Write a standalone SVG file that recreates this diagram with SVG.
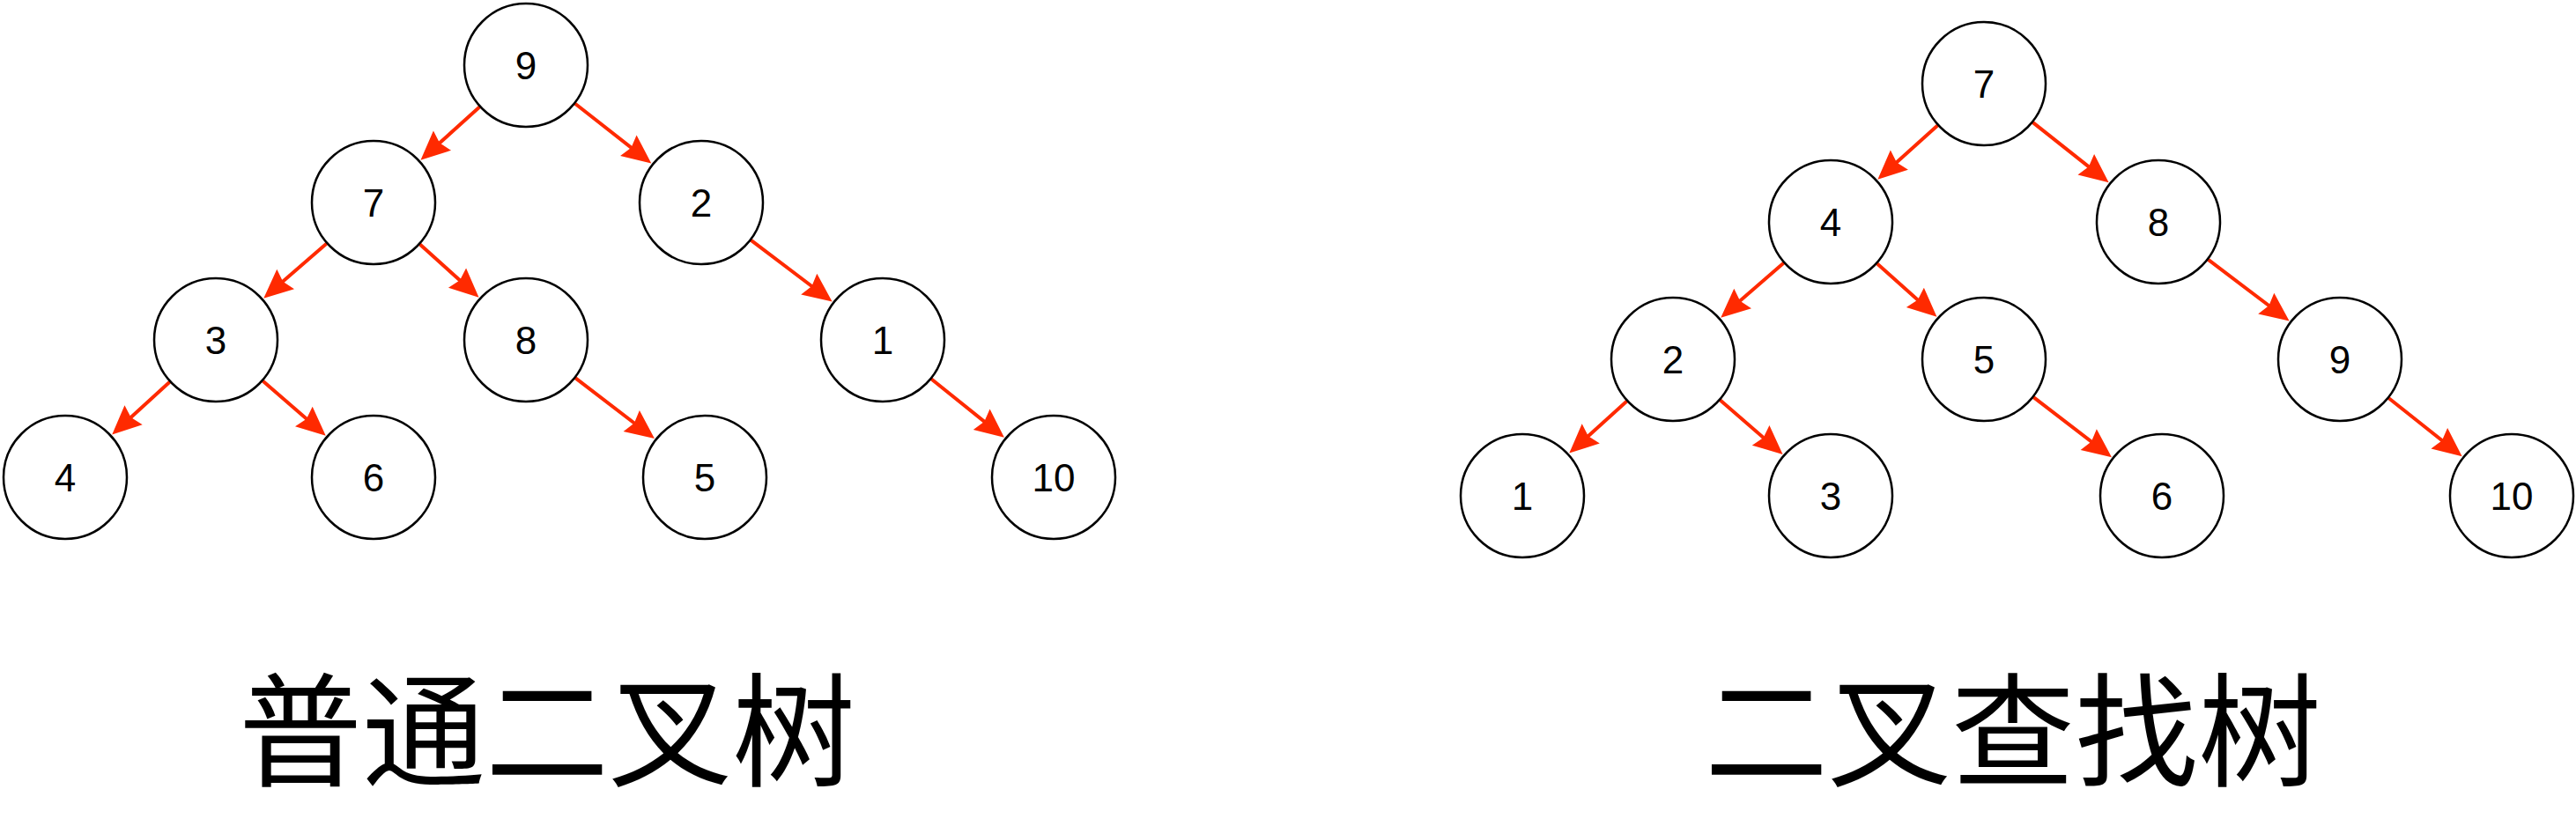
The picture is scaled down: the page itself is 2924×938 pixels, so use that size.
<svg xmlns="http://www.w3.org/2000/svg" width="2924" height="938" viewBox="0 0 2924 938">
<style>
.node circle{fill:#fff;stroke:#000;stroke-width:2.5}
.node text{font-family:"Liberation Sans",Arial,Helvetica,sans-serif;font-size:44px;text-anchor:middle;fill:#000}
.edge{stroke:#FF2A00;stroke-width:4;fill:none;stroke-linecap:round;marker-end:url(#arr)}
.title{font-family:"Noto Sans CJK SC","Noto Sans CJK JP",sans-serif;font-size:140px;text-anchor:middle;fill:#000}
</style>
<defs>
<marker id="arr" markerUnits="userSpaceOnUse" viewBox="-24 -16 35 32" markerWidth="35" markerHeight="32" refX="0" refY="0" orient="auto">
<path d="M10,0 L-23,-15 L-19,0 L-23,15 Z" fill="#FF2A00"/>
</marker>
</defs>
<rect width="2924" height="938" fill="#fff"/>
<g id="connectors">
<line class="edge" x1="544.3" y1="121.5" x2="484.9" y2="175.1"/>
<line class="edge" x1="652.9" y1="117.8" x2="731.4" y2="179.4"/>
<line class="edge" x1="370.5" y1="276.7" x2="306.8" y2="332.1"/>
<line class="edge" x1="476.7" y1="277.5" x2="536.1" y2="331.1"/>
<line class="edge" x1="852.6" y1="272.9" x2="936.6" y2="336.5"/>
<line class="edge" x1="192.6" y1="433.8" x2="134.6" y2="486.8"/>
<line class="edge" x1="298.5" y1="432.7" x2="362.2" y2="488.1"/>
<line class="edge" x1="653.3" y1="429.3" x2="735.0" y2="492.0"/>
<line class="edge" x1="1057.3" y1="430.5" x2="1132.1" y2="490.6"/>
<line class="edge" x1="2199.3" y1="142.6" x2="2138.8" y2="197.1"/>
<line class="edge" x1="2307.6" y1="139.1" x2="2385.8" y2="201.1"/>
<line class="edge" x1="2024.5" y1="298.7" x2="1960.8" y2="354.1"/>
<line class="edge" x1="2130.9" y1="299.4" x2="2191.0" y2="353.2"/>
<line class="edge" x1="2506.6" y1="294.9" x2="2590.6" y2="358.5"/>
<line class="edge" x1="1846.4" y1="455.7" x2="1788.7" y2="507.9"/>
<line class="edge" x1="1952.7" y1="454.5" x2="2016.0" y2="509.4"/>
<line class="edge" x1="2308.3" y1="451.2" x2="2389.0" y2="513.1"/>
<line class="edge" x1="2711.6" y1="452.2" x2="2786.8" y2="512.0"/>
</g>
<g id="L9" class="node"><circle cx="597" cy="74" r="70"/><text x="597" y="90">9</text></g>
<g id="L7" class="node"><circle cx="424" cy="230" r="70"/><text x="424" y="246">7</text></g>
<g id="L2" class="node"><circle cx="796" cy="230" r="70"/><text x="796" y="246">2</text></g>
<g id="L3" class="node"><circle cx="245" cy="386" r="70"/><text x="245" y="402">3</text></g>
<g id="L8" class="node"><circle cx="597" cy="386" r="70"/><text x="597" y="402">8</text></g>
<g id="L1" class="node"><circle cx="1002" cy="386" r="70"/><text x="1002" y="402">1</text></g>
<g id="L4" class="node"><circle cx="74" cy="542" r="70"/><text x="74" y="558">4</text></g>
<g id="L6" class="node"><circle cx="424" cy="542" r="70"/><text x="424" y="558">6</text></g>
<g id="L5" class="node"><circle cx="800" cy="542" r="70"/><text x="800" y="558">5</text></g>
<g id="L10" class="node"><circle cx="1196" cy="542" r="70"/><text x="1196" y="558">10</text></g>
<g id="R7" class="node"><circle cx="2252" cy="95" r="70"/><text x="2252" y="111">7</text></g>
<g id="R4" class="node"><circle cx="2078" cy="252" r="70"/><text x="2078" y="268">4</text></g>
<g id="R8" class="node"><circle cx="2450" cy="252" r="70"/><text x="2450" y="268">8</text></g>
<g id="R2" class="node"><circle cx="1899" cy="408" r="70"/><text x="1899" y="424">2</text></g>
<g id="R5" class="node"><circle cx="2252" cy="408" r="70"/><text x="2252" y="424">5</text></g>
<g id="R9" class="node"><circle cx="2656" cy="408" r="70"/><text x="2656" y="424">9</text></g>
<g id="R1" class="node"><circle cx="1728" cy="563" r="70"/><text x="1728" y="579">1</text></g>
<g id="R3" class="node"><circle cx="2078" cy="563" r="70"/><text x="2078" y="579">3</text></g>
<g id="R6" class="node"><circle cx="2454" cy="563" r="70"/><text x="2454" y="579">6</text></g>
<g id="R10" class="node"><circle cx="2851" cy="563" r="70"/><text x="2851" y="579">10</text></g>
<g id="titles">
<text class="title" x="621" y="882">普通二叉树</text>
<text class="title" x="2285" y="882">二叉查找树</text>
</g>
</svg>
